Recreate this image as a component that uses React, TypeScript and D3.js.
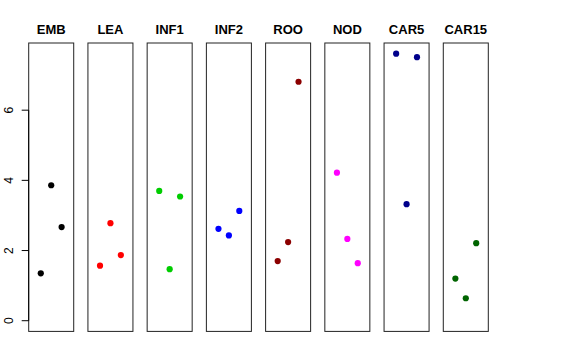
import { useEffect, useRef } from 'react';
import * as d3 from 'd3';

// panel names and colours
const categories = ['EMB', 'LEA', 'INF1', 'INF2', 'ROO', 'NOD', 'CAR5', 'CAR15'];
const colors = ['#000000', '#FF0000', '#00CD00', '#0000FF', '#8B0000', '#FF00FF', '#00008B', '#006400'];

// three replicate values per panel, plotted at x = 1, 2, 3
const emb = [1.35, 3.86, 2.67];
const lea = [1.57, 2.78, 1.87];
const inf1 = [3.7, 1.47, 3.54];
const inf2 = [2.62, 2.43, 3.13];
const roo = [1.7, 2.24, 6.81];
const nod = [4.22, 2.33, 1.64];
const car5 = [7.61, 3.32, 7.51];
const car15 = [1.2, 0.64, 2.21];

const yTicks = [0, 2, 4, 6];

const series = [emb, lea, inf1, inf2, roo, nod, car5, car15];

export default function App() {
  const svgRef = useRef<SVGSVGElement>(null);
  const width = 576;
  const height = 360;

  useEffect(() => {
    if (!svgRef.current) return;
    const svg = d3.select(svgRef.current);
    svg.selectAll('*').remove();

    const top = 43;
    const bottom = 331.4;
    const left = 28.7;
    const right = 488.3;

    // R style ylim c(0, max) with 4% extension
    const yMax = d3.max(series.flat()) ?? 1;
    const ext = yMax * 0.04;
    const y = d3.scaleLinear().domain([-ext, yMax + ext]).range([bottom, top]);

    const panel = d3
      .scaleBand<string>()
      .domain(categories)
      .range([left, right])
      .paddingInner(0.24)
      .paddingOuter(0);

    categories.forEach((cat, i) => {
      const x0 = panel(cat) ?? 0;
      const bw = panel.bandwidth();
      const x = d3.scaleLinear().domain([-0.16, 4.16]).range([x0, x0 + bw]);
      const g = svg.append('g');

      g.append('rect')
        .attr('x', x0)
        .attr('y', top)
        .attr('width', bw)
        .attr('height', bottom - top)
        .attr('fill', 'none')
        .attr('stroke', '#222')
        .attr('stroke-width', 1);

      g.selectAll('circle')
        .data(series[i])
        .enter()
        .append('circle')
        .attr('cx', (_, j) => x(j + 1))
        .attr('cy', d => y(d))
        .attr('r', 3.1)
        .attr('fill', colors[i]);

      g.append('text')
        .attr('x', x0 + bw / 2)
        .attr('y', 34.3)
        .attr('text-anchor', 'middle')
        .attr('font-family', '"Liberation Sans", Arial, sans-serif')
        .attr('font-weight', 'bold')
        .attr('font-size', '13px')
        .attr('fill', '#000')
        .text(cat);
    });

    // y axis on the first panel
    const axis = svg.append('g');
    axis
      .append('line')
      .attr('x1', left)
      .attr('x2', left)
      .attr('y1', y(yTicks[0]))
      .attr('y2', y(yTicks[yTicks.length - 1]))
      .attr('stroke', '#000');

    axis
      .selectAll('.tick')
      .data(yTicks)
      .enter()
      .append('line')
      .attr('x1', left - 7)
      .attr('x2', left)
      .attr('y1', d => y(d))
      .attr('y2', d => y(d))
      .attr('stroke', '#000');

    axis
      .selectAll('.tlabel')
      .data(yTicks)
      .enter()
      .append('text')
      .attr('transform', d => `translate(12.7,${y(d)}) rotate(-90)`)
      .attr('text-anchor', 'middle')
      .attr('font-family', '"Liberation Sans", Arial, sans-serif')
      .attr('font-size', '12px')
      .attr('fill', '#000')
      .text(d => String(d));
  }, []);

  return (
    <div style={{ position: 'absolute', left: 0, top: 0 }}>
      <svg ref={svgRef} width={width} height={height} style={{ display: 'block', background: '#fff' }}></svg>
    </div>
  );
}
